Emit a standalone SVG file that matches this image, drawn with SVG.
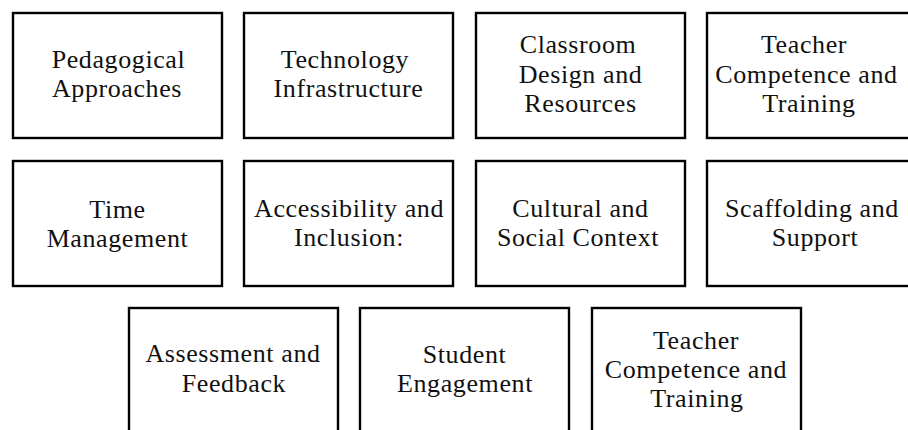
<svg xmlns="http://www.w3.org/2000/svg" width="908" height="430" viewBox="0 0 908 430">
  <style>
    .box { fill: #ffffff; stroke: #000000; stroke-width: 2.4; }
    .lbl { font-family: "Liberation Serif", "Times New Roman", serif; font-size: 26px; letter-spacing: 0.6px; fill: #111111; text-anchor: middle; }
  </style>
  <rect x="0" y="0" width="908" height="430" fill="#ffffff"/>

  <!-- row 1 -->
  <g id="pedagogical-approaches">
    <rect class="box" x="13" y="13" width="209" height="125"/>
    <text class="lbl" x="118.5" y="68">Pedagogical</text>
    <text class="lbl" x="117" y="97">Approaches</text>
  </g>
  <g id="technology-infrastructure">
    <rect class="box" x="244" y="13" width="209" height="125"/>
    <text class="lbl" x="345" y="68">Technology</text>
    <text class="lbl" x="348.5" y="97">Infrastructure</text>
  </g>
  <g id="classroom-design">
    <rect class="box" x="476" y="13" width="209" height="125"/>
    <text class="lbl" x="578" y="53">Classroom</text>
    <text class="lbl" x="580.5" y="83">Design and</text>
    <text class="lbl" x="580.5" y="112">Resources</text>
  </g>
  <g id="teacher-competence-1">
    <rect class="box" x="707" y="13" width="209" height="125"/>
    <text class="lbl" x="804" y="53">Teacher</text>
    <text class="lbl" x="806.5" y="83">Competence and</text>
    <text class="lbl" x="809" y="112">Training</text>
  </g>

  <!-- row 2 -->
  <g id="time-management">
    <rect class="box" x="13" y="161" width="209" height="125"/>
    <text class="lbl" x="117.5" y="218">Time</text>
    <text class="lbl" x="117.5" y="247">Management</text>
  </g>
  <g id="accessibility-inclusion">
    <rect class="box" x="244" y="161" width="209" height="125"/>
    <text class="lbl" x="349" y="217">Accessibility and</text>
    <text class="lbl" x="349" y="246">Inclusion:</text>
  </g>
  <g id="cultural-social-context">
    <rect class="box" x="476" y="161" width="209" height="125"/>
    <text class="lbl" x="580.5" y="217">Cultural and</text>
    <text class="lbl" x="578" y="246">Social Context</text>
  </g>
  <g id="scaffolding-support">
    <rect class="box" x="707" y="161" width="209" height="125"/>
    <text class="lbl" x="812" y="217">Scaffolding and</text>
    <text class="lbl" x="815" y="246">Support</text>
  </g>

  <!-- row 3 -->
  <g id="assessment-feedback">
    <rect class="box" x="129" y="308" width="209" height="140"/>
    <text class="lbl" x="233" y="362">Assessment and</text>
    <text class="lbl" x="234" y="392">Feedback</text>
  </g>
  <g id="student-engagement">
    <rect class="box" x="360" y="308" width="209" height="140"/>
    <text class="lbl" x="464.5" y="363">Student</text>
    <text class="lbl" x="465" y="392">Engagement</text>
  </g>
  <g id="teacher-competence-2">
    <rect class="box" x="592" y="308" width="209" height="140"/>
    <text class="lbl" x="696" y="349">Teacher</text>
    <text class="lbl" x="696" y="378">Competence and</text>
    <text class="lbl" x="697" y="407">Training</text>
  </g>

  <g id="connectors"/>
</svg>
